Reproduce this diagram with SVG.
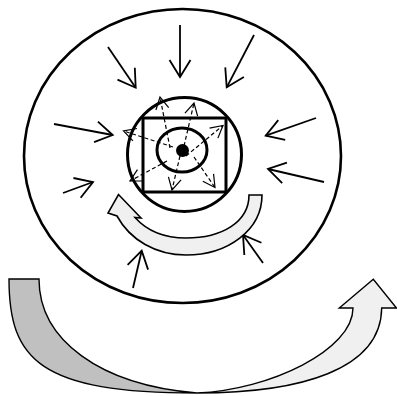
<svg xmlns="http://www.w3.org/2000/svg" width="397" height="396" viewBox="0 0 397 396">
<defs>
<style>
.solid{fill:none;stroke:#000;stroke-width:1.8;marker-end:url(#head)}
.dash{fill:none;stroke:#000;stroke-width:1.2;stroke-dasharray:4 2.5;marker-end:url(#headS)}
.thick{fill:none;stroke:#000;stroke-width:3}
.band{stroke:#000;stroke-width:1.4;stroke-linejoin:miter}
</style>
<marker id="head" markerUnits="userSpaceOnUse" markerWidth="24" markerHeight="26" viewBox="-20 -13 24 26" refX="0" refY="0" orient="auto" overflow="visible">
<path d="M-17,-10.5 L0,0 L-17,10.5" fill="none" stroke="#000" stroke-width="1.8"/>
</marker>
<marker id="headS" markerUnits="userSpaceOnUse" markerWidth="18" markerHeight="18" viewBox="-15 -9 18 18" refX="0" refY="0" orient="auto" overflow="visible">
<path d="M-12,-6.5 L0,0 L-12,6.5" fill="none" stroke="#000" stroke-width="1.2"/>
</marker>
</defs>
<rect width="397" height="396" fill="#fff"/>
<g id="outer">
<ellipse cx="182.5" cy="156" rx="158.5" ry="147" fill="#fff" stroke="#000" stroke-width="2.6"/>
</g>
<g id="connectors">
<line class="solid" x1="180" y1="25" x2="180" y2="77"/>
<line class="solid" x1="108" y1="47" x2="135.7" y2="87.7"/>
<line class="solid" x1="254" y1="35" x2="226.7" y2="87.3"/>
<line class="solid" x1="54" y1="124" x2="112.7" y2="135"/>
<line class="solid" x1="316" y1="118" x2="265.7" y2="135.7"/>
<line class="solid" x1="63" y1="193" x2="93" y2="182"/>
<line class="solid" x1="324" y1="182" x2="268" y2="169"/>
<line class="solid" x1="133" y1="288" x2="141.7" y2="250.7"/>
<line class="solid" x1="263" y1="263" x2="243" y2="235"/>
</g>
<g id="rotation-arrow">
<path d="M262,195 C262,230 228,255 186,255 C156,255 130,240 117,216 L108,213 L118.5,194.5 L141,218 L135,217.5 C148,232 165,238 186,238 C222,238 249,222 249,195 Z" fill="#f0f0f0" stroke="#000" stroke-width="1.6" stroke-linejoin="miter"/>
</g>
<g id="core">
<circle cx="184.5" cy="154.5" r="57" fill="#fff" stroke="#000" stroke-width="3"/>
<rect x="143" y="118" width="83" height="74" class="thick"/>
<ellipse cx="182" cy="150" rx="25" ry="22" class="thick"/>
<circle cx="182.5" cy="150.5" r="6.5" fill="#000"/>
</g>
<g id="inner-connectors">
<line class="dash" x1="170" y1="148" x2="160" y2="97"/>
<line class="dash" x1="184" y1="146" x2="194" y2="103"/>
<line class="dash" x1="186" y1="156" x2="223" y2="125.5"/>
<line class="dash" x1="173" y1="147" x2="123.5" y2="131"/>
<line class="dash" x1="167" y1="161" x2="130" y2="181"/>
<line class="dash" x1="180" y1="156" x2="172" y2="190"/>
<line class="dash" x1="194" y1="157" x2="215" y2="187.5"/>
</g>
<g id="big-arrow">
<path class="band" d="M9,279 L39,279 C39,340 100,385 197,393 C40,393 9,360 9,279 Z" fill="#c0c0c0"/>
<path class="band" d="M197,393 C270,390 353,350 353,308 L339.3,308 L373.3,279.3 L396.5,308 L381.7,308 C381,370 300,393 197,393 Z" fill="#f0f0f0"/>
</g>
</svg>
